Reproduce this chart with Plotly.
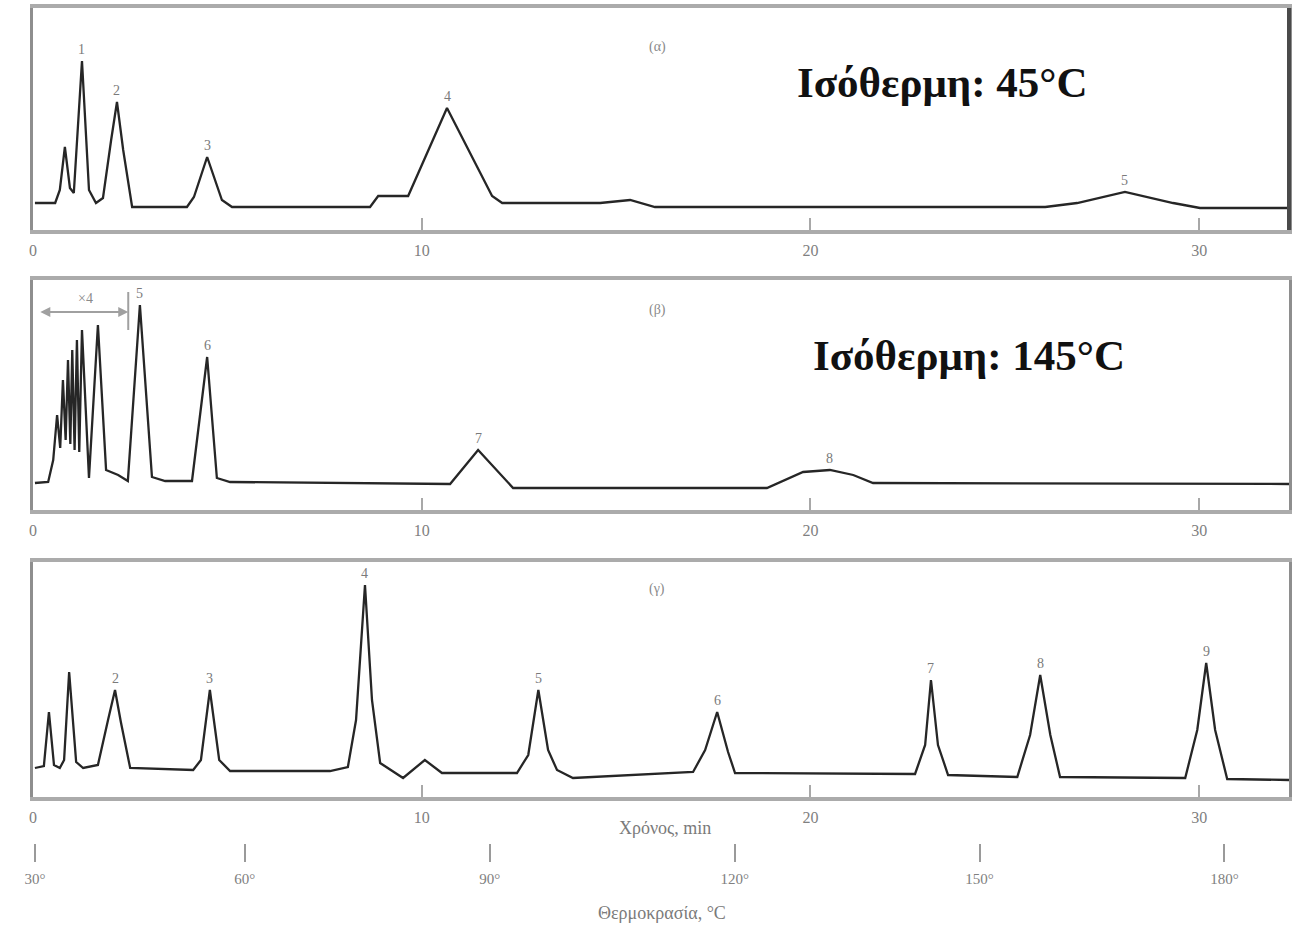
import numpy as np
import plotly.graph_objects as go

# ---------------- data ----------------
# (α) isothermal 45 °C : retention time (min) and detector response (a.u.)
a_time = [0.05, 0.57, 0.69, 0.82, 0.95, 1.05, 1.26, 1.44, 1.62, 1.80, 2.01, 2.16, 2.32, 2.55,
          3.96, 4.14, 4.48, 4.86, 5.12, 8.67, 8.88, 9.65, 10.65, 11.81, 12.07, 14.59, 15.36,
          16.00, 26.04, 26.86, 28.09, 29.33, 30.02, 32.31]
a_resp = [27, 27, 40, 83, 42, 37, 169, 40, 27, 32, 90, 128, 80, 23,
          23, 33, 73, 30, 23, 23, 34, 34, 122, 34, 27, 27, 30,
          23, 23, 27, 38, 27, 22, 22]
a_peak_times = [1.26, 2.16, 4.48, 10.65, 28.09]
a_peak_labels = ["1", "2", "3", "4", "5"]

# (β) isothermal 145 °C
b_time = [0.05, 0.39, 0.52, 0.62, 0.70, 0.77, 0.84, 0.90, 0.96, 1.01, 1.07, 1.13, 1.19, 1.26,
          1.44, 1.67, 1.88, 2.19, 2.44, 2.75, 3.06, 3.40, 4.09, 4.48, 4.73, 5.07, 10.73,
          11.45, 12.35, 18.88, 19.81, 20.50, 21.10, 21.61, 32.31]
b_resp = [27, 28, 50, 95, 62, 130, 70, 150, 66, 160, 60, 170, 58, 180,
          32, 185, 40, 35, 29, 205, 33, 29, 29, 153, 32, 28, 26,
          60, 22, 22, 38, 40, 35, 27, 26]
b_peak_times = [2.75, 4.48, 11.45, 20.50]
b_peak_labels = ["5", "6", "7", "8"]

# (γ) temperature programmed
c_time = [0.05, 0.28, 0.41, 0.54, 0.69, 0.80, 0.93, 1.11, 1.29, 1.67, 1.93, 2.11, 2.26, 2.50,
          4.12, 4.32, 4.55, 4.79, 5.07, 7.64, 8.10, 8.31, 8.54, 8.72, 8.93, 9.52, 10.08,
          10.52, 12.45, 12.74, 13.00, 13.25, 13.48, 13.89, 16.98, 17.29, 17.60, 17.88, 18.06,
          22.69, 22.95, 23.10, 23.28, 23.54, 25.32, 25.65, 25.91, 26.17, 26.42, 29.64, 29.95,
          30.18, 30.41, 30.72, 32.31]
c_resp = [29, 31, 85, 32, 29, 37, 125, 35, 29, 32, 77, 107, 75, 29,
          27, 37, 107, 37, 26, 26, 30, 77, 212, 97, 34, 19, 37,
          24, 24, 42, 107, 47, 27, 19, 25, 47, 85, 45, 24,
          23, 52, 117, 52, 22, 20, 62, 122, 62, 20, 19, 67,
          134, 67, 18, 17]
c_peak_times = [2.11, 4.55, 8.54, 13.00, 17.60, 23.10, 25.91, 30.18]
c_peak_labels = ["2", "3", "4", "5", "6", "7", "8", "9"]

time_ticks = [0, 10, 20, 30]
time_tick_labels = ["0", "10", "20", "30"]
temp_tick_times = [0.05, 5.45, 11.75, 18.05, 24.35, 30.65]
temp_tick_labels = ["30°", "60°", "90°", "120°", "150°", "180°"]

panel_titles = ["(α)", "(β)", "(γ)"]
iso_texts = ["Ισόθερμη: 45°C", "Ισόθερμη: 145°C"]

# ---------------- figure ----------------
W, H = 1297, 937
def py(p):
    return 1 - p / H

x_dom = [33 / W, 1289 / W]
x_rng = [0, 32.31]
doms = [[py(230), py(8)], [py(510), py(280)], [py(797), py(562)]]
y_rngs = [[0, 222], [0, 230], [0, 235]]

LINE = "#262626"
SERIF = "Liberation Serif, Times New Roman, serif"

fig = go.Figure()
series = [(a_time, a_resp), (b_time, b_resp), (c_time, c_resp)]
for i, (t, r) in enumerate(series):
    fig.add_trace(go.Scatter(x=t, y=r, mode="lines", line=dict(color=LINE, width=2.3),
                             xaxis=f"x{i+1 if i else ''}", yaxis=f"y{i+1 if i else ''}",
                             showlegend=False, hoverinfo="skip"))

layout = dict(width=W, height=H,
              margin=dict(l=0, r=0, t=0, b=0, pad=0, autoexpand=False),
              paper_bgcolor="white", plot_bgcolor="white", showlegend=False)

for i in range(3):
    sx = "" if i == 0 else str(i + 1)
    layout[f"xaxis{sx}"] = dict(domain=x_dom, range=x_rng, anchor=f"y{sx}",
                                showgrid=False, zeroline=False, automargin=False,
                                showline=True, mirror=True, linecolor="#ababab", linewidth=4,
                                ticks="inside", ticklen=12, tickwidth=2, tickcolor="#a8a8a8",
                                tickvals=time_ticks, ticktext=time_tick_labels,
                                ticklabelstandoff=3,
                                tickfont=dict(family=SERIF, size=16, color="#808080"))
    layout[f"yaxis{sx}"] = dict(domain=doms[i], range=y_rngs[i], anchor=f"x{sx}",
                                showgrid=False, zeroline=False, showticklabels=False,
                                automargin=False,
                                ticks="", showline=True, mirror=True,
                                linecolor="#8e8e8e", linewidth=3)

# temperature scale beneath panel (γ)
layout["xaxis4"] = dict(domain=x_dom, range=x_rng, anchor="y4", showgrid=False,
                        zeroline=False, showline=False, ticks="outside", ticklen=18,
                        automargin=False,
                        tickwidth=2, tickcolor="#9a9a9a", tickvals=temp_tick_times,
                        ticktext=temp_tick_labels, ticklabelstandoff=4,
                        tickfont=dict(family=SERIF, size=15, color="#808080"))
layout["yaxis4"] = dict(domain=[py(843), py(842)], range=[0, 1], anchor="x4",
                        visible=False, automargin=False)
fig.update_layout(**layout)
fig.add_trace(go.Scatter(x=[], y=[], xaxis="x4", yaxis="y4", showlegend=False))

# dark right border of panel (α)
fig.add_shape(type="line", xref="x domain", yref="y domain", x0=1, x1=1, y0=0, y1=1,
              line=dict(color="#4a4a4a", width=4))

# peak labels, placed on the trace apex
peak_sets = [(a_peak_times, a_peak_labels), (b_peak_times, b_peak_labels),
             (c_peak_times, c_peak_labels)]
for i, ((pt, pl), (t, r)) in enumerate(zip(peak_sets, series)):
    sx = "" if i == 0 else str(i + 1)
    for tt, lab in zip(pt, pl):
        fig.add_annotation(x=tt, y=float(np.interp(tt, t, r)), xref=f"x{sx}", yref=f"y{sx}",
                           text=lab, showarrow=False, xanchor="center", yanchor="middle",
                           yshift=12, font=dict(family=SERIF, size=14, color="#7a7a7a"))

# panel titles (α) (β) (γ)
for i, ttl in enumerate(panel_titles):
    fig.add_annotation(x=657 / W, y=py([47, 310, 589][i]), xref="paper", yref="paper",
                       text=ttl, showarrow=False, xanchor="center", yanchor="middle",
                       font=dict(family=SERIF, size=14, color="#8a8a8a"))

# isotherm texts
fig.add_annotation(x=942 / W, y=py(82), xref="paper", yref="paper", text=iso_texts[0],
                   showarrow=False, xanchor="center", yanchor="middle",
                   font=dict(family=SERIF, size=43, color="#111111", weight="bold"))
fig.add_annotation(x=969 / W, y=py(356), xref="paper", yref="paper", text=iso_texts[1],
                   showarrow=False, xanchor="center", yanchor="middle",
                   font=dict(family=SERIF, size=43, color="#111111", weight="bold"))

# ×4 bracket in panel (β)
fig.add_annotation(x=2.45, y=198, ax=0.15, ay=198, xref="x2", yref="y2", axref="x2", ayref="y2",
                   text="", showarrow=True, arrowhead=2, arrowsize=1, arrowwidth=2,
                   arrowcolor="#a0a0a0", startarrowhead=2, arrowside="end+start")
fig.add_shape(type="line", xref="x2", yref="y2", x0=2.45, x1=2.45, y0=180, y1=218,
              line=dict(color="#a0a0a0", width=2))
fig.add_annotation(x=1.35, y=212, xref="x2", yref="y2", text="×4", showarrow=False,
                   font=dict(family=SERIF, size=14, color="#8a8a8a"))

# axis titles
fig.add_annotation(x=665 / W, y=py(828), xref="paper", yref="paper", text="Χρόνος, min",
                   showarrow=False, xanchor="center", yanchor="middle",
                   font=dict(family=SERIF, size=18, color="#7a7a7a"))
fig.add_annotation(x=662 / W, y=py(913), xref="paper", yref="paper", text="Θερμοκρασία, °C",
                   showarrow=False, xanchor="center", yanchor="middle",
                   font=dict(family=SERIF, size=18, color="#7a7a7a"))

fig.write_html("out.html")
